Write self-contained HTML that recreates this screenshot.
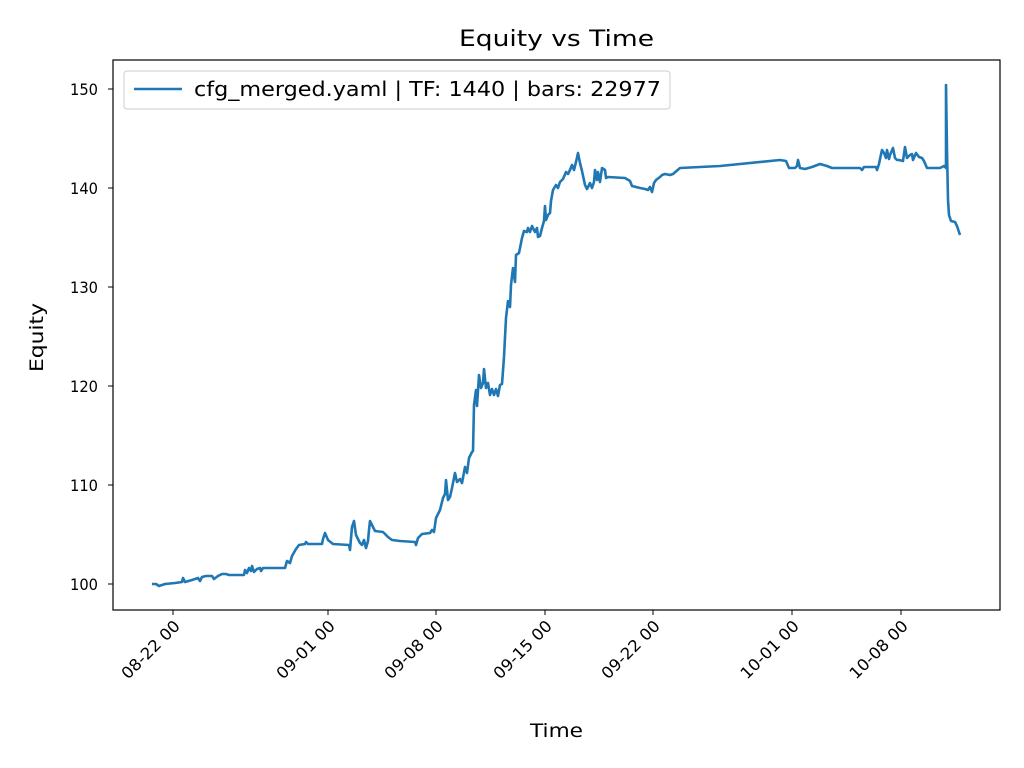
<!DOCTYPE html><html><head><style>body{margin:0;background:#fff}svg{display:block}</style></head><body>
<svg width="1024" height="768" xmlns="http://www.w3.org/2000/svg" font-family="'DejaVu Sans','Liberation Sans',sans-serif">
<rect width="1024" height="768" fill="#fff"/>
<text x="459" y="46" font-size="22" textLength="195" lengthAdjust="spacingAndGlyphs">Equity vs Time</text>
<polyline fill="none" stroke="#1f77b4" stroke-width="2.6" stroke-linejoin="round" points="152,584 156,584 159,586 165,584 175,583 182,582 183,578 185,582 192,580 198,578 200,581 202,577 206,576 212,576 214,579 218,576 222,574 226,574 229,575 244,575 245,570 247,573 249,568 251,571 252,566 254,572 257,569 260,568 261,571 263,568 285,568 287,561 290,563 292,556 296,549 299,545 305,544 306,542 308,544 322,544 323,539 325,533 328,540 333,544 349,545 350,550 352,527 354,521 356,535 360,543 362,545 364,540 366,548 368,541 369,530 370,521 373,527 375,531 383,532 388,537 392,540 400,541 415,542 416,545 418,538 422,534 430,533 432,530 434,532 436,518 440,510 443,498 445,494 446,480 448,500 450,497 452,488 455,473 457,482 460,479 462,483 465,467 467,473 469,458 472,452 473,451 474,405 476,390 477,406 479,375 481,388 483,383 484,369 486,388 488,383 490,395 492,389 494,395 496,389 498,396 500,385 502,384 504,357 506,318 508,301 510,307 511,285 513,268 515,282 516,255 519,253 521,243 522,238 524,231 527,232 528,228 530,232 532,226 535,232 537,228 538,237 540,236 542,228 544,221 545,206 546,220 548,215 550,213 551,201 553,190 556,185 558,188 560,182 563,179 566,172 568,174 570,170 572,165 574,170 576,162 578,153 580,163 582,171 585,185 587,189 590,183 592,188 594,182 595,170 597,180 598,172 600,182 602,168 605,170 606,178 608,177 625,178 630,181 632,186 640,188 645,189 648,190 650,187 652,192 654,183 656,180 660,177 662,175 665,174 670,175 673,174 680,168 720,166 780,160 786,161 789,168 795,168 797,166 798,160 800,168 805,169 812,167 820,164 827,166 832,168 860,168 862,170 864,167 876,167 877,170 879,164 880,159 882,150 884,153 886,158 887,150 889,159 890,155 893,148 895,158 897,160 899,160 903,161 905,147 907,158 910,155 912,154 913,160 916,153 919,157 922,158 924,161 927,168 940,168 944,166 946,168 946,85 947,150 948,200 949,215 951,221 955,222 957,226 960,235"/>
<rect x="113" y="60" width="887" height="550" fill="none" stroke="#000" stroke-width="1.2"/>
<g font-size="16" text-anchor="end">
<g stroke="#000"><line x1="108" y1="584" x2="113" y2="584"/><line x1="108" y1="485" x2="113" y2="485"/><line x1="108" y1="386" x2="113" y2="386"/><line x1="108" y1="287" x2="113" y2="287"/><line x1="108" y1="188" x2="113" y2="188"/><line x1="108" y1="89" x2="113" y2="89"/></g>
<text x="98" y="590" textLength="28" lengthAdjust="spacingAndGlyphs">100</text><text x="98" y="491" textLength="28" lengthAdjust="spacingAndGlyphs">110</text><text x="98" y="392" textLength="28" lengthAdjust="spacingAndGlyphs">120</text><text x="98" y="293" textLength="28" lengthAdjust="spacingAndGlyphs">130</text><text x="98" y="194" textLength="28" lengthAdjust="spacingAndGlyphs">140</text><text x="98" y="95" textLength="28" lengthAdjust="spacingAndGlyphs">150</text>
</g>
<g stroke="#000"><line x1="173" y1="610" x2="173" y2="615"/><line x1="328" y1="610" x2="328" y2="615"/><line x1="436" y1="610" x2="436" y2="615"/><line x1="545" y1="610" x2="545" y2="615"/><line x1="653" y1="610" x2="653" y2="615"/><line x1="792" y1="610" x2="792" y2="615"/><line x1="901" y1="610" x2="901" y2="615"/></g>
<g font-size="16" text-anchor="end">
<text transform="translate(181,627) rotate(-45)" textLength="75" lengthAdjust="spacingAndGlyphs">08-22 00</text>
<text transform="translate(336,627) rotate(-45)" textLength="75" lengthAdjust="spacingAndGlyphs">09-01 00</text>
<text transform="translate(444,627) rotate(-45)" textLength="75" lengthAdjust="spacingAndGlyphs">09-08 00</text>
<text transform="translate(553,627) rotate(-45)" textLength="75" lengthAdjust="spacingAndGlyphs">09-15 00</text>
<text transform="translate(661,627) rotate(-45)" textLength="75" lengthAdjust="spacingAndGlyphs">09-22 00</text>
<text transform="translate(800,627) rotate(-45)" textLength="75" lengthAdjust="spacingAndGlyphs">10-01 00</text>
<text transform="translate(909,627) rotate(-45)" textLength="75" lengthAdjust="spacingAndGlyphs">10-08 00</text>
</g>
<text x="530" y="737" font-size="19" textLength="53" lengthAdjust="spacingAndGlyphs">Time</text>
<text transform="translate(43,372) rotate(-90)" font-size="19" textLength="69" lengthAdjust="spacingAndGlyphs">Equity</text>
<rect x="124" y="71" width="546" height="38" rx="3" fill="#fff" stroke="#ccc"/>
<line x1="134" y1="89" x2="182" y2="89" stroke="#1f77b4" stroke-width="2.6"/>
<text x="194" y="96" font-size="20" textLength="467" lengthAdjust="spacingAndGlyphs">cfg_merged.yaml | TF: 1440 | bars: 22977</text>
</svg></body></html>
